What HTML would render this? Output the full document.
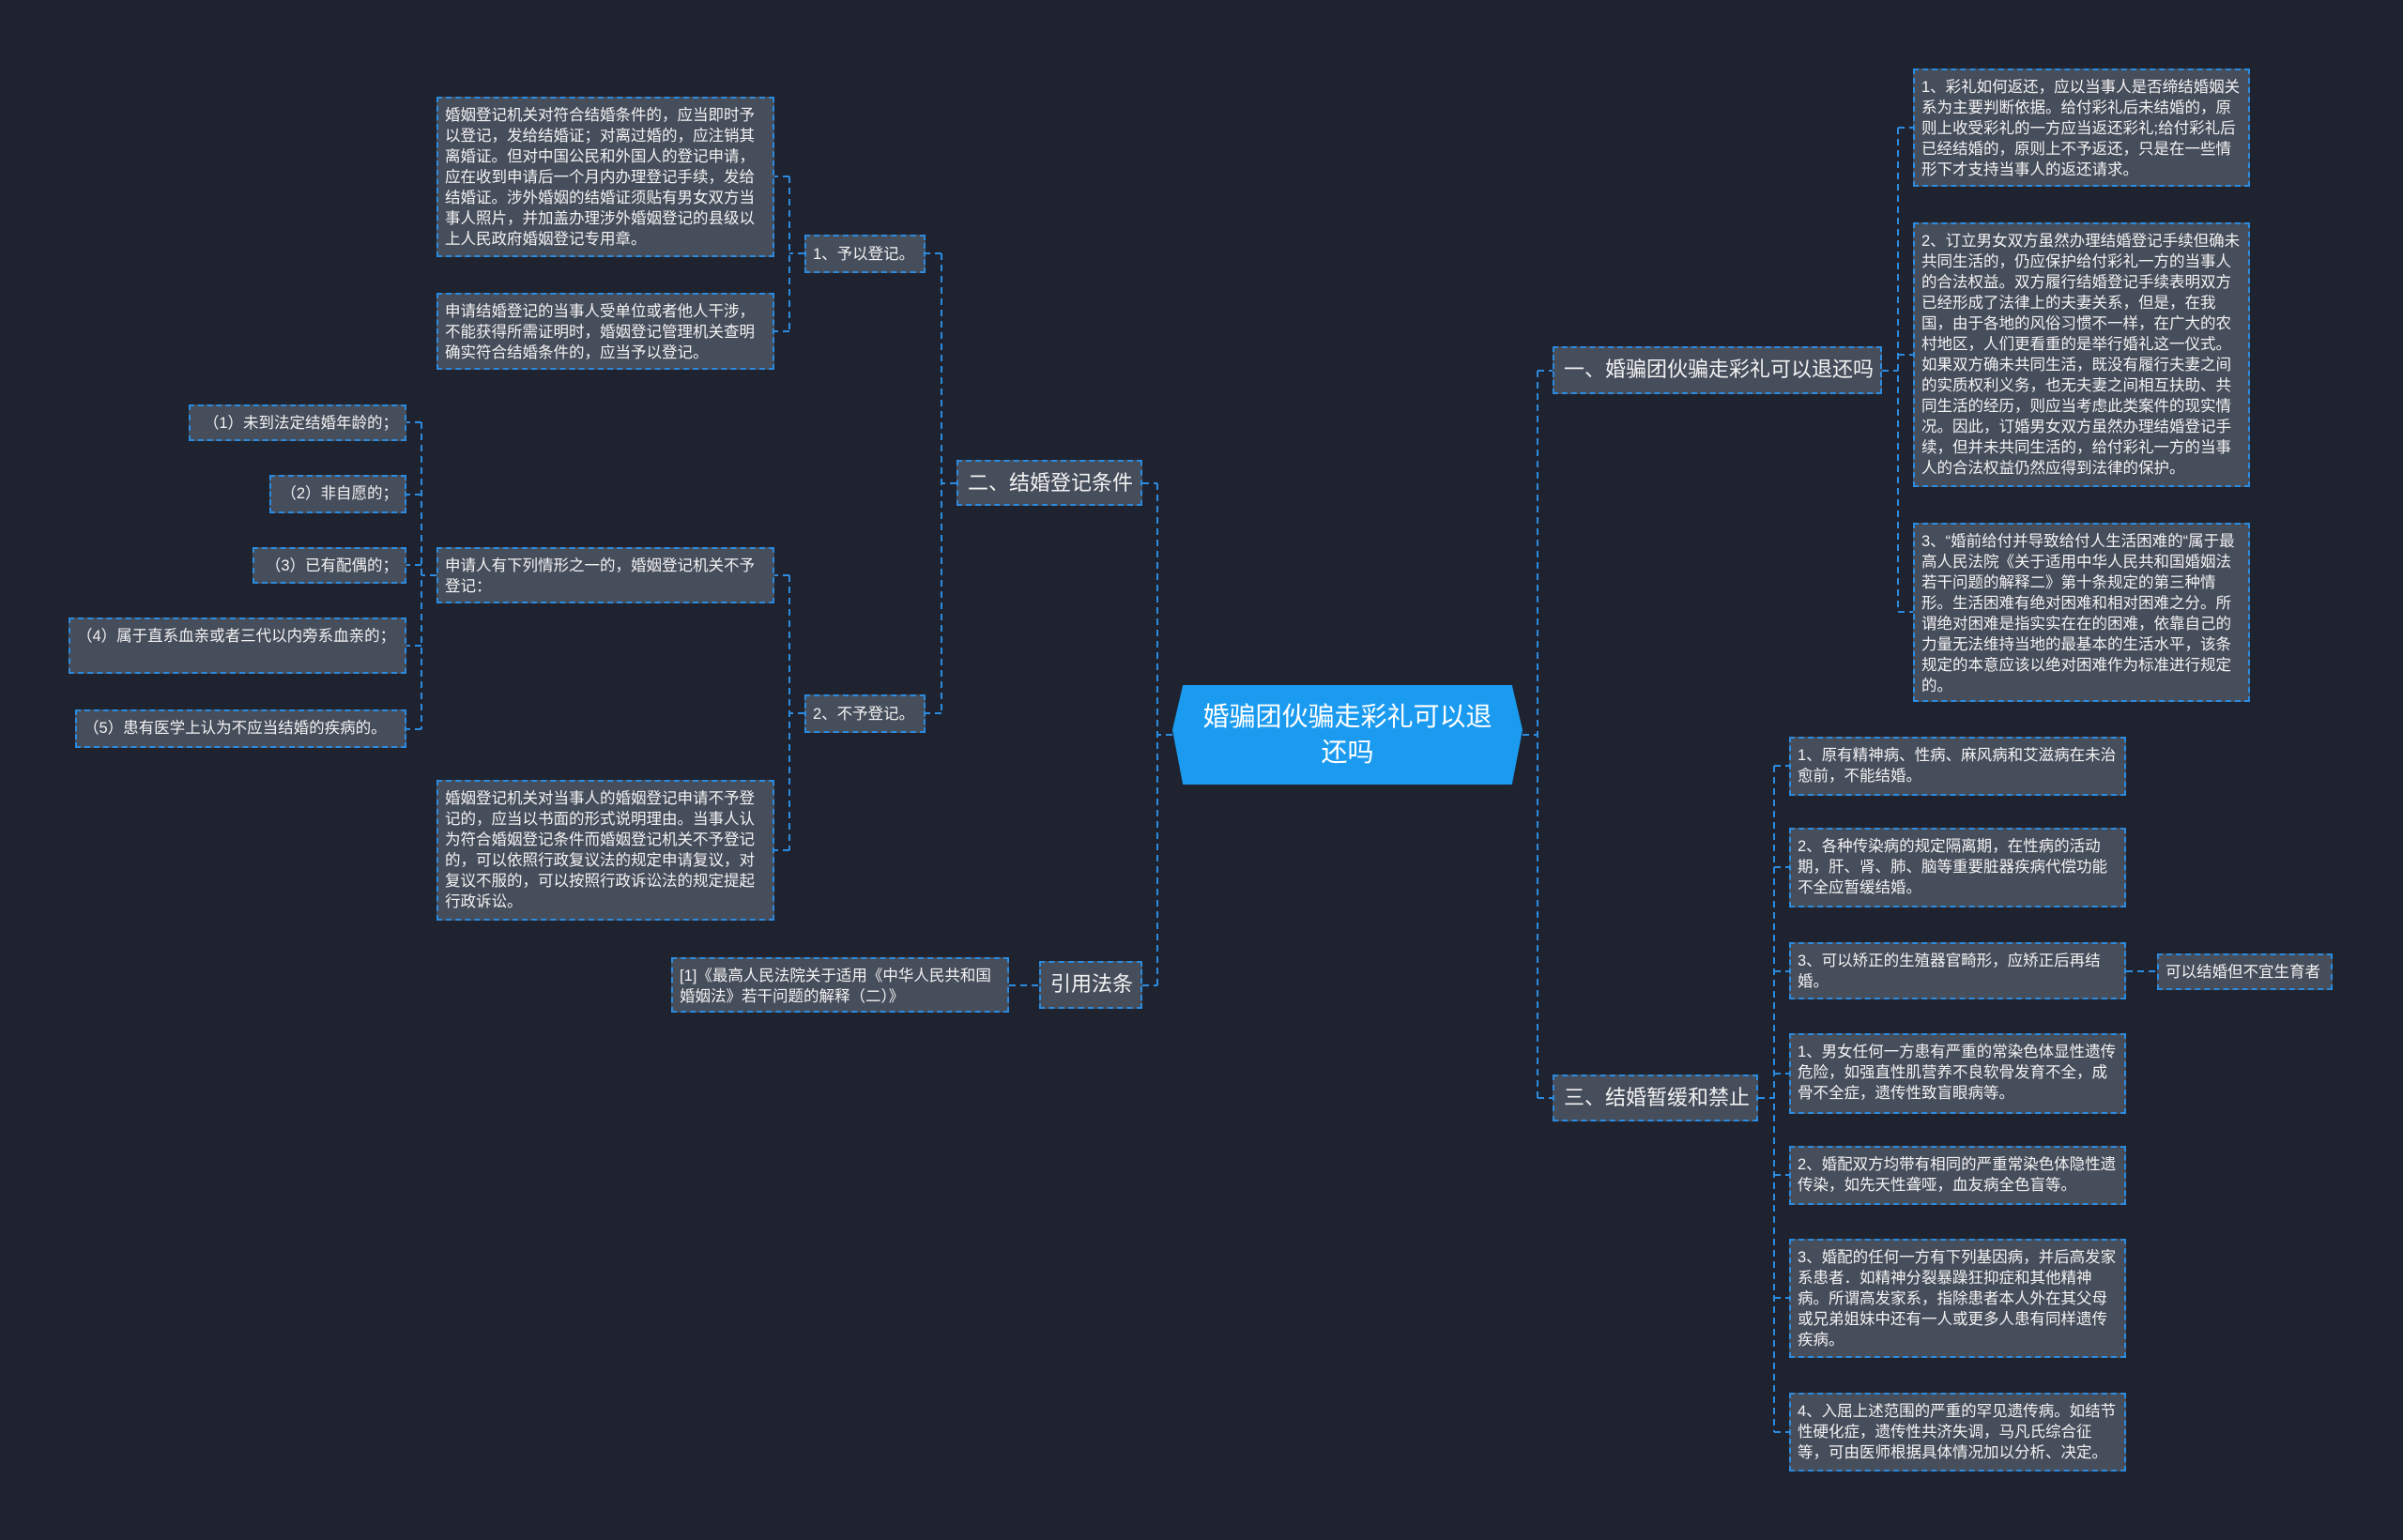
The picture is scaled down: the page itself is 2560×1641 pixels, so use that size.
<!DOCTYPE html>
<html><head><meta charset="utf-8"><style>
html,body{margin:0;padding:0}
body{width:2560px;height:1641px;background:#1f2330;position:relative;overflow:hidden;font-family:"Liberation Sans","Noto Sans CJK SC",sans-serif;color:#f2f2f2}
.b{position:absolute;box-sizing:border-box;background:#464d5b;border:2px dashed #2b8be0;font-size:16.5px;line-height:22px;padding:7px 7px;word-break:break-all}
.m{font-size:22px;line-height:28px;padding:9px 10px;white-space:nowrap}
.s{white-space:nowrap}
svg{position:absolute;left:0;top:0}
.root{position:absolute;left:1249px;top:730px;width:373px;height:106px;background:#1b9bf0;clip-path:polygon(3% 0,97% 0,100% 45%,97% 100%,3% 100%,0 45%);color:#fff;font-size:28px;line-height:38px;text-align:center;display:flex;align-items:center;justify-content:center;padding:0 30px;box-sizing:border-box}
</style></head><body>
<svg width="2560" height="1641" fill="none" stroke="#2b8be0" stroke-width="2" stroke-dasharray="7,5">
<path d="M1249 783 H1233 M1233 515 V1050 M1217 515 H1233 M1217 1050 H1233"/>
<path d="M1019 515 H1003 M1003 270 V760 M1003 270 H986 M1003 760 H986"/>
<path d="M857 270 H841 M841 188 V353 M841 188 H825 M841 353 H825"/>
<path d="M857 760 H841 M841 613 V906 M841 613 H825 M841 906 H825"/>
<path d="M465 613 H449 M449 450 V777 M449 450 H433 M449 527 H433 M449 602 H433 M449 688 H433 M449 777 H433"/>
<path d="M1075 1050 H1107"/>
<path d="M1622 783 H1638 M1638 395 V1170 M1638 395 H1654 M1638 1170 H1654"/>
<path d="M2005 395 H2022 M2022 136 V652 M2022 136 H2038 M2022 378 H2038 M2022 652 H2038"/>
<path d="M1873 1170 H1890 M1890 816 V1526 M1890 816 H1906 M1890 924 H1906 M1890 1035 H1906 M1890 1144 H1906 M1890 1252 H1906 M1890 1383 H1906 M1890 1526 H1906"/>
<path d="M2265 1035 H2298"/>
</svg>
<div class="root">婚骗团伙骗走彩礼可以退还吗</div>

<div class="b m" style="left:1019px;top:490px;width:198px;height:49px">二、结婚登记条件</div>
<div class="b m" style="left:1107px;top:1024px;width:110px;height:51px">引用法条</div>
<div class="b s" style="left:857px;top:250px;width:129px;height:41px;padding-top:8px">1、予以登记。</div>
<div class="b s" style="left:857px;top:740px;width:129px;height:41px;padding-top:8px">2、不予登记。</div>
<div class="b" style="left:465px;top:103px;width:360px;height:171px">婚姻登记机关对符合结婚条件的，应当即时予以登记，发给结婚证；对离过婚的，应注销其离婚证。但对中国公民和外国人的登记申请，应在收到申请后一个月内办理登记手续，发给结婚证。涉外婚姻的结婚证须贴有男女双方当事人照片，并加盖办理涉外婚姻登记的县级以上人民政府婚姻登记专用章。</div>
<div class="b" style="left:465px;top:312px;width:360px;height:82px">申请结婚登记的当事人受单位或者他人干涉，不能获得所需证明时，婚姻登记管理机关查明确实符合结婚条件的，应当予以登记。</div>
<div class="b" style="left:465px;top:583px;width:360px;height:60px">申请人有下列情形之一的，婚姻登记机关不予登记：</div>
<div class="b" style="left:465px;top:831px;width:360px;height:150px">婚姻登记机关对当事人的婚姻登记申请不予登记的，应当以书面的形式说明理由。当事人认为符合婚姻登记条件而婚姻登记机关不予登记的，可以依照行政复议法的规定申请复议，对复议不服的，可以按照行政诉讼法的规定提起行政诉讼。</div>
<div class="b s" style="left:201px;top:431px;width:232px;height:39px;text-align:right">（1）未到法定结婚年龄的；</div>
<div class="b s" style="left:287px;top:506px;width:146px;height:41px;text-align:right">（2）非自愿的；</div>
<div class="b s" style="left:269px;top:583px;width:164px;height:39px;text-align:right">（3）已有配偶的；</div>
<div class="b" style="left:73px;top:658px;width:360px;height:60px">（4）属于直系血亲或者三代以内旁系血亲的；</div>
<div class="b s" style="left:80px;top:756px;width:353px;height:41px">（5）患有医学上认为不应当结婚的疾病的。</div>
<div class="b" style="left:715px;top:1020px;width:360px;height:59px">[1]《最高人民法院关于适用《中华人民共和国婚姻法》若干问题的解释（二）》</div>

<div class="b m" style="left:1654px;top:369px;width:351px;height:51px">一、婚骗团伙骗走彩礼可以退还吗</div>
<div class="b" style="left:2038px;top:73px;width:359px;height:126px">1、彩礼如何返还，应以当事人是否缔结婚姻关系为主要判断依据。给付彩礼后未结婚的，原则上收受彩礼的一方应当返还彩礼;给付彩礼后已经结婚的，原则上不予返还，只是在一些情形下才支持当事人的返还请求。</div>
<div class="b" style="left:2038px;top:237px;width:359px;height:282px">2、订立男女双方虽然办理结婚登记手续但确未共同生活的，仍应保护给付彩礼一方的当事人的合法权益。双方履行结婚登记手续表明双方已经形成了法律上的夫妻关系，但是，在我国，由于各地的风俗习惯不一样，在广大的农村地区，人们更看重的是举行婚礼这一仪式。如果双方确未共同生活，既没有履行夫妻之间的实质权利义务，也无夫妻之间相互扶助、共同生活的经历，则应当考虑此类案件的现实情况。因此，订婚男女双方虽然办理结婚登记手续，但并未共同生活的，给付彩礼一方的当事人的合法权益仍然应得到法律的保护。</div>
<div class="b" style="left:2038px;top:557px;width:359px;height:191px">3、“婚前给付并导致给付人生活困难的“属于最高人民法院《关于适用中华人民共和国婚姻法若干问题的解释二》第十条规定的第三种情形。生活困难有绝对困难和相对困难之分。所谓绝对困难是指实实在在的困难，依靠自己的力量无法维持当地的最基本的生活水平，该条规定的本意应该以绝对困难作为标准进行规定的。</div>

<div class="b m" style="left:1654px;top:1145px;width:219px;height:50px">三、结婚暂缓和禁止</div>
<div class="b" style="left:1906px;top:785px;width:359px;height:63px">1、原有精神病、性病、麻风病和艾滋病在未治愈前，不能结婚。</div>
<div class="b" style="left:1906px;top:882px;width:359px;height:85px">2、各种传染病的规定隔离期，在性病的活动期，肝、肾、肺、脑等重要脏器疾病代偿功能不全应暂缓结婚。</div>
<div class="b" style="left:1906px;top:1004px;width:359px;height:61px">3、可以矫正的生殖器官畸形，应矫正后再结婚。</div>
<div class="b s" style="left:2298px;top:1016px;width:187px;height:39px">可以结婚但不宜生育者</div>
<div class="b" style="left:1906px;top:1101px;width:359px;height:86px">1、男女任何一方患有严重的常染色体显性遗传危险，如强直性肌营养不良软骨发育不全，成骨不全症，遗传性致盲眼病等。</div>
<div class="b" style="left:1906px;top:1221px;width:359px;height:63px">2、婚配双方均带有相同的严重常染色体隐性遗传染，如先天性聋哑，血友病全色盲等。</div>
<div class="b" style="left:1906px;top:1320px;width:359px;height:127px">3、婚配的任何一方有下列基因病，并后高发家系患者．如精神分裂暴躁狂抑症和其他精神病。所谓高发家系，指除患者本人外在其父母或兄弟姐妹中还有一人或更多人患有同样遗传疾病。</div>
<div class="b" style="left:1906px;top:1484px;width:359px;height:84px">4、入屈上述范围的严重的罕见遗传病。如结节性硬化症，遗传性共济失调，马凡氏综合征等，可由医师根据具体情况加以分析、决定。</div>
</body></html>
